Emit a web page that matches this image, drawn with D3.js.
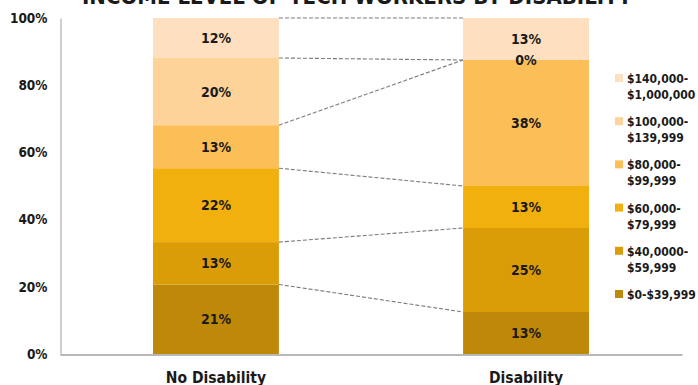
<!DOCTYPE html>
<html>
<head>
<meta charset="utf-8">
<script src="https://cdn.jsdelivr.net/npm/d3@7"></script>
<style>
  html, body { margin: 0; padding: 0; background: #fff; }
  svg { display: block; }
  .cond { font-family: "DejaVu Sans Condensed", "DejaVu Sans", sans-serif; font-stretch: condensed; }
</style>
</head>
<body>
<svg id="chart" width="698" height="385"></svg>
<script>
// Share of tech workers in each income band, by disability status (percent)
const categories = ["No Disability", "Disability"];
const incomeBands = ["$0-$39,999", "$40,0000-$59,999", "$60,000-$79,999",
                     "$80,000-$99,999", "$100,000-$139,999", "$140,000-$1,000,000"];
const legendLines = [["$0-$39,999"], ["$40,0000-", "$59,999"], ["$60,000-", "$79,999"],
                     ["$80,000-", "$99,999"], ["$100,000-", "$139,999"], ["$140,000-", "$1,000,000"]];
const noDisability = [20.7, 12.6, 22.0, 12.8, 20.0, 11.9];
const disability   = [12.5, 25.0, 12.5, 37.5, 0.0, 12.5];
const bandColors = ["#BE8809", "#DA9D08", "#F2B00E", "#FCBF58", "#FDD39A", "#FEE0C0"];
const yTicks = [0, 20, 40, 60, 80, 100];
const titleText = "INCOME LEVEL OF TECH WORKERS BY DISABILITY";

const seriesByCategory = { "No Disability": noDisability, "Disability": disability };

const svg = d3.select("#chart");

const x = d3.scaleBand()
  .domain(categories)
  .range([60, 682])
  .paddingInner(0.594)
  .paddingOuter(0.3);

const y = d3.scaleLinear().domain([0, 100]).range([354, 18]);

const color = d3.scaleOrdinal().domain(incomeBands).range(bandColors);

// Stack the bands for each category
const rows = categories.map(c => {
  const r = { category: c };
  incomeBands.forEach((b, i) => { r[b] = seriesByCategory[c][i]; });
  return r;
});
const stacked = d3.stack().keys(incomeBands)(rows);

// Title (runs off the top edge)
svg.append("text")
  .attr("class", "cond")
  .attr("x", 357).attr("y", 3.5)
  .attr("text-anchor", "middle")
  .attr("font-size", 22).attr("font-weight", "bold")
  .attr("fill", "#1a1a1a")
  .text(titleText);

// Bars
const layer = svg.append("g").selectAll("g")
  .data(stacked)
  .join("g")
  .attr("fill", d => color(d.key));

layer.selectAll("rect")
  .data(d => d.map(p => ({ key: d.key, cat: p.data.category, y0: p[0], y1: p[1] })))
  .join("rect")
  .attr("x", d => x(d.cat))
  .attr("width", x.bandwidth())
  .attr("y", d => y(d.y1))
  .attr("height", d => y(d.y0) - y(d.y1));

// Dashed connectors between the segment tops of the two bars
const left = categories[0], right = categories[1];
const connectors = stacked.map(s => ({
  a: s.find(p => p.data.category === left)[1],
  b: s.find(p => p.data.category === right)[1]
}));
svg.append("g").selectAll("line")
  .data(connectors)
  .join("line")
  .attr("x1", x(left) + x.bandwidth())
  .attr("x2", x(right))
  .attr("y1", d => y(d.a))
  .attr("y2", d => y(d.b))
  .attr("stroke", "#7a7a7a")
  .attr("stroke-width", 1.1)
  .attr("stroke-dasharray", "4,2");

// Value labels centred in each segment
const labels = [];
stacked.forEach(s => s.forEach(p => {
  labels.push({ cat: p.data.category, mid: (p[0] + p[1]) / 2, v: p[1] - p[0] });
}));
svg.append("g").selectAll("text")
  .data(labels)
  .join("text")
  .attr("class", "cond")
  .attr("x", d => x(d.cat) + x.bandwidth() / 2)
  .attr("y", d => y(d.mid))
  .attr("dy", "0.36em")
  .attr("text-anchor", "middle")
  .attr("font-size", 14).attr("font-weight", "bold")
  .attr("fill", "#1a1a1a")
  .text(d => Math.round(d.v) + "%");

// Y axis
const yAxis = svg.append("g")
  .attr("transform", "translate(60.5,0)")
  .call(d3.axisLeft(y).tickValues(yTicks).tickFormat(d => d + "%").tickSize(0).tickSizeOuter(0).tickPadding(13));
yAxis.select(".domain").attr("stroke", "#a0a0a0");
yAxis.selectAll("text")
  .attr("class", "cond")
  .attr("font-size", 13.5).attr("font-weight", "bold")
  .attr("fill", "#1a1a1a");

// X axis
const xAxis = svg.append("g")
  .attr("transform", "translate(0,354.5)")
  .call(d3.axisBottom(x).tickSize(0).tickSizeOuter(0));
xAxis.select(".domain").attr("stroke", "#a0a0a0").attr("stroke-width", 1.5);
xAxis.selectAll("text")
  .attr("class", "cond")
  .attr("y", 28).attr("dy", 0)
  .attr("font-size", 15.5).attr("font-weight", "bold")
  .attr("fill", "#1a1a1a");

// Legend, highest band first
const legendOrder = incomeBands.map((b, i) => ({ band: b, lines: legendLines[i] })).reverse();
const legend = svg.append("g").selectAll("g")
  .data(legendOrder)
  .join("g")
  .attr("transform", (d, i) => `translate(615,${83 + i * 43.2})`);
legend.append("rect")
  .attr("x", 0).attr("y", -9)
  .attr("width", 8).attr("height", 8)
  .attr("fill", d => color(d.band));
legend.append("text")
  .attr("class", "cond")
  .attr("x", 12)
  .attr("font-size", 12).attr("font-weight", "bold")
  .attr("fill", "#1a1a1a")
  .selectAll("tspan")
  .data(d => d.lines)
  .join("tspan")
  .attr("x", 12)
  .attr("dy", (d, i) => i === 0 ? 0 : 16)
  .text(d => d);
</script>
</body>
</html>
